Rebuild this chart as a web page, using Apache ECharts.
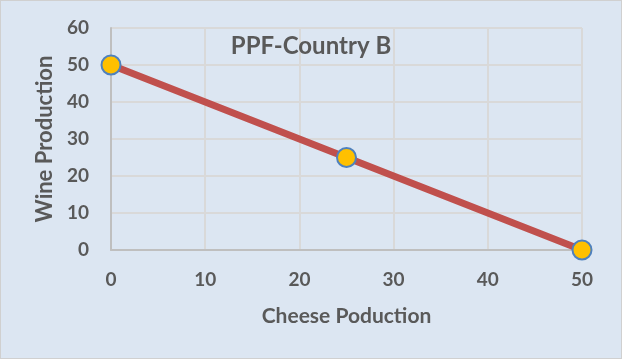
<!DOCTYPE html>
<html><head><meta charset="utf-8">
<script src="https://cdn.jsdelivr.net/npm/echarts@6/dist/echarts.min.js"></script>
<style>html,body{margin:0;padding:0;background:#DCE6F2}#c{width:622px;height:359px;box-sizing:border-box;border:1px solid #D0D0D0}</style>
</head><body><div id="c"></div>
<script>
const cheese = [0, 25, 50];
const wine = [50, 25, 0];
const title = "PPF-Country B";
const xName = "Cheese Poduction";
const yName = "Wine Production";
const FONT = "Lato, 'Open Sans', sans-serif";
const chart = echarts.init(document.getElementById('c'));
chart.setOption({
  backgroundColor: '#DCE6F2',
  animation: false,
  title: {text: title, left: 305, top: 28, textAlign: 'center',
    textStyle: {fontFamily: FONT, fontWeight: 'bold', fontSize: 24, color: '#595959'}},
  grid: {left: 110, right: 39, top: 27, bottom: 108},
  xAxis: {type: 'value', min: 0, max: 50, interval: 10,
    name: xName, nameLocation: 'middle', nameGap: 56,
    nameTextStyle: {fontFamily: FONT, fontWeight: 'bold', fontSize: 21, color: '#595959'},
    axisLine: {lineStyle: {color: '#BFBFBF', width: 2}}, axisTick: {show: false},
    axisLabel: {fontFamily: FONT, fontWeight: 'bold', fontSize: 19, color: '#595959', margin: 20},
    splitLine: {lineStyle: {color: '#D9D9D9', width: 2}}},
  yAxis: {type: 'value', min: 0, max: 60, interval: 10,
    name: yName, nameLocation: 'middle', nameGap: 54,
    nameTextStyle: {fontFamily: FONT, fontWeight: 'bold', fontSize: 22, color: '#595959'},
    axisLine: {show: true, lineStyle: {color: '#BFBFBF', width: 2}}, axisTick: {show: false},
    axisLabel: {fontFamily: FONT, fontWeight: 'bold', fontSize: 19, color: '#595959', margin: 22},
    splitLine: {lineStyle: {color: '#D9D9D9', width: 2}}},
  series: [{type: 'line', data: cheese.map((c, i) => [c, wine[i]]),
    lineStyle: {color: '#C0504D', width: 7}, symbol: 'circle', symbolSize: 19,
    itemStyle: {color: '#FFC000', borderColor: '#4F81BD', borderWidth: 2}, z: 3}]
});
</script></body></html>
